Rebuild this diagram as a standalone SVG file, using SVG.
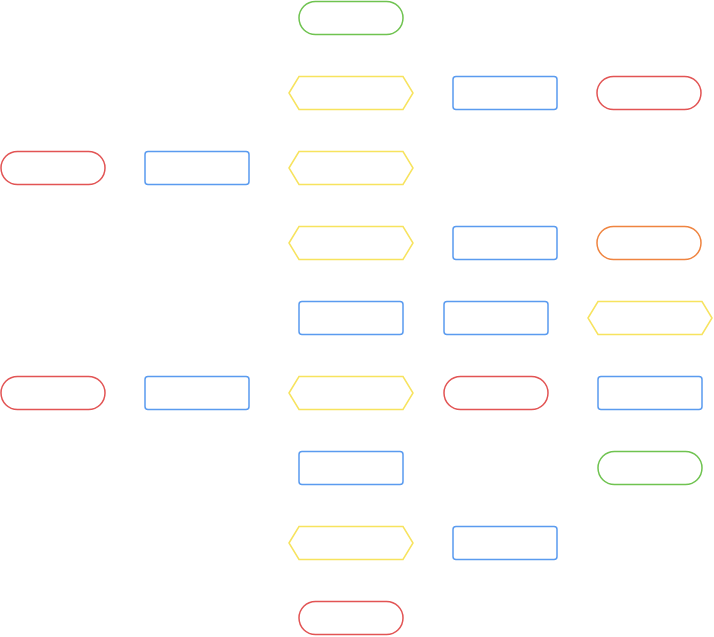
<svg xmlns="http://www.w3.org/2000/svg" width="714" height="637" viewBox="0 0 714 637">
<style>
.n{fill:#fff;stroke-width:1.5}
.green{stroke:#6fc350}
.red{stroke:#e25454}
.orange{stroke:#ef8440}
.blue{stroke:#5a9bef;fill:#fff;stroke-width:1.5}
.yellow{stroke:#f7e35e}
</style>
<rect width="714" height="637" fill="#fff"/>
<g id="connectors"></g>
<g id="n1"><rect class="n green" x="299" y="1.5" width="104" height="33" rx="16.5"/></g>
<g id="n2"><polygon class="n yellow" points="289,93 299,76.5 403,76.5 413,93 403,109.5 299,109.5"/></g>
<g id="n3"><rect class="blue" x="453" y="76.5" width="104" height="33" rx="3"/></g>
<g id="n4"><rect class="n red" x="597" y="76.5" width="104" height="33" rx="16.5"/></g>
<g id="n5"><rect class="n red" x="1" y="151.5" width="104" height="33" rx="16.5"/></g>
<g id="n6"><rect class="blue" x="145" y="151.5" width="104" height="33" rx="3"/></g>
<g id="n7"><polygon class="n yellow" points="289,168 299,151.5 403,151.5 413,168 403,184.5 299,184.5"/></g>
<g id="n8"><polygon class="n yellow" points="289,243 299,226.5 403,226.5 413,243 403,259.5 299,259.5"/></g>
<g id="n9"><rect class="blue" x="453" y="226.5" width="104" height="33" rx="3"/></g>
<g id="n10"><rect class="n orange" x="597" y="226.5" width="104" height="33" rx="16.5"/></g>
<g id="n11"><rect class="blue" x="299" y="301.5" width="104" height="33" rx="3"/></g>
<g id="n12"><rect class="blue" x="444" y="301.5" width="104" height="33" rx="3"/></g>
<g id="n13"><polygon class="n yellow" points="588,318 598,301.5 702,301.5 712,318 702,334.5 598,334.5"/></g>
<g id="n14"><rect class="n red" x="1" y="376.5" width="104" height="33" rx="16.5"/></g>
<g id="n15"><rect class="blue" x="145" y="376.5" width="104" height="33" rx="3"/></g>
<g id="n16"><polygon class="n yellow" points="289,393 299,376.5 403,376.5 413,393 403,409.5 299,409.5"/></g>
<g id="n17"><rect class="n red" x="444" y="376.5" width="104" height="33" rx="16.5"/></g>
<g id="n18"><rect class="blue" x="598" y="376.5" width="104" height="33" rx="3"/></g>
<g id="n19"><rect class="blue" x="299" y="451.5" width="104" height="33" rx="3"/></g>
<g id="n20"><rect class="n green" x="598" y="451.5" width="104" height="33" rx="16.5"/></g>
<g id="n21"><polygon class="n yellow" points="289,543 299,526.5 403,526.5 413,543 403,559.5 299,559.5"/></g>
<g id="n22"><rect class="blue" x="453" y="526.5" width="104" height="33" rx="3"/></g>
<g id="n23"><rect class="n red" x="299" y="601.5" width="104" height="33" rx="16.5"/></g>
</svg>
